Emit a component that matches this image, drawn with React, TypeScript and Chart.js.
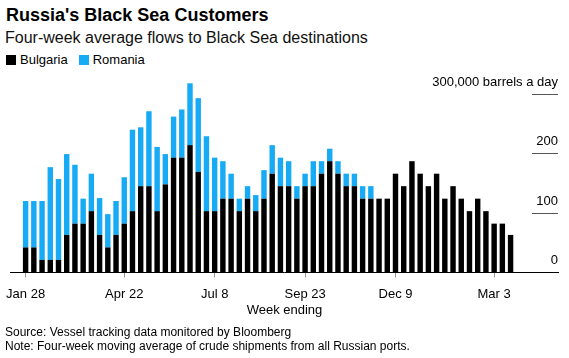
import React, { useEffect, useRef } from "react";
import { Chart, registerables } from "chart.js";

Chart.register(...registerables);

const weekLabels = [
  "Jan 28", "Feb 4", "Feb 11", "Feb 18", "Feb 25", "Mar 4", "Mar 11", "Mar 18", "Mar 25", "Apr 1",
  "Apr 8", "Apr 15", "Apr 22", "Apr 29", "May 6", "May 13", "May 20", "May 27", "Jun 3", "Jun 10",
  "Jun 17", "Jun 24", "Jul 1", "Jul 8", "Jul 15", "Jul 22", "Jul 29", "Aug 5", "Aug 12", "Aug 19",
  "Aug 26", "Sep 2", "Sep 9", "Sep 16", "Sep 23", "Sep 30", "Oct 7", "Oct 14", "Oct 21", "Oct 28",
  "Nov 4", "Nov 11", "Nov 18", "Nov 25", "Dec 2", "Dec 9", "Dec 16", "Dec 23", "Dec 30", "Jan 6",
  "Jan 13", "Jan 20", "Jan 27", "Feb 3", "Feb 10", "Feb 17", "Feb 24", "Mar 3", "Mar 10", "Mar 17",
];

// thousand barrels a day
const bulgaria = [
  42, 42, 21, 21, 21, 63, 82, 82, 103, 63,
  42, 63, 82, 103, 145, 145, 103, 148, 193, 193,
  214, 169, 103, 103, 124, 124, 103, 124, 103, 124,
  166, 145, 145, 124, 145, 145, 166, 187, 166, 145,
  145, 124, 124, 124, 124, 166, 145, 187, 166, 145,
  166, 124, 145, 124, 103, 124, 103, 82, 82, 63,
];

const romania = [
  78, 78, 99, 156, 136, 136, 99, 42, 63, 62,
  56, 57, 78, 137, 99, 126, 108, 51, 69, 81,
  104, 124, 126, 90, 63, 42, 21, 21, 27, 48,
  48, 48, 42, 21, 21, 42, 21, 21, 21, 21,
  21, 21, 21, 0, 0, 0, 0, 0, 0, 0,
  0, 0, 0, 0, 0, 0, 0, 0, 0, 0,
];

const labeledWeeks = ["Jan 28", "Apr 22", "Jul 8", "Sep 23", "Dec 9", "Mar 3"];
const yTicks = [0, 100, 200, 300];

const FONT = "'Liberation Sans', Arial, Helvetica, sans-serif";
const BLUE = "#17aaf5";

export default function App() {
  const canvasRef = useRef<HTMLCanvasElement | null>(null);

  useEffect(() => {
    const canvas = canvasRef.current;
    if (!canvas) return;
    const tickIdx = labeledWeeks.map((l) => weekLabels.indexOf(l));

    const shortGrid = {
      id: "shortGrid",
      afterDraw(chart: any) {
        const { ctx, chartArea, scales } = chart;
        ctx.save();
        ctx.strokeStyle = "#555";
        ctx.lineWidth = 1;
        yTicks.slice(1).forEach((v) => {
          const y = Math.round(scales.y.getPixelForValue(v)) + 0.5;
          ctx.beginPath();
          ctx.moveTo(chartArea.right - 26, y);
          ctx.lineTo(chartArea.right, y);
          ctx.stroke();
        });
        ctx.restore();
      },
    };

    const chart = new Chart(canvas, {
      type: "bar",
      data: {
        datasets: [
          {
            label: "Bulgaria",
            data: bulgaria.map((v, i) => ({ x: i, y: v })),
            backgroundColor: "#000000",
            barPercentage: 0.66,
            categoryPercentage: 1,
            clip: false,
          },
          {
            label: "Romania",
            data: romania.map((v, i) => ({ x: i, y: v })),
            backgroundColor: BLUE,
            barPercentage: 0.66,
            categoryPercentage: 1,
            clip: false,
          },
        ],
      },
      options: {
        animation: false,
        responsive: false,
        maintainAspectRatio: false,
        layout: { padding: { left: 10, right: 11, top: 24, bottom: 2 } },
        plugins: {
          legend: { display: false },
          tooltip: { enabled: false },
        },
        scales: {
          x: {
            type: "linear",
            stacked: true,
            offset: false,
            bounds: "data",
            min: -1.9,
            max: 64.77,
            afterBuildTicks: (scale: any) => {
              scale.ticks = tickIdx.map((v) => ({ value: v }));
            },
            afterFit: (scale: any) => {
              scale.paddingLeft = 0;
              scale.paddingRight = 0;
            },
            ticks: {
              autoSkip: false,
              maxRotation: 0,
              padding: 9,
              color: "#000",
              font: { family: FONT, size: 13 },
              callback: (value: any) => weekLabels[value as number] ?? "",
            },
            grid: {
              display: true,
              drawOnChartArea: false,
              drawTicks: true,
              tickLength: 5,
              offset: false,
              color: "#999",
            },
            border: { display: true, color: "#000", width: 1 },
          },
          y: {
            type: "linear",
            position: "right",
            stacked: true,
            min: 0,
            max: 300,
            afterBuildTicks: (scale: any) => {
              scale.ticks = yTicks.map((v) => ({ value: v }));
            },
            afterFit: (scale: any) => {
              scale.width = 0;
              scale.paddingTop = 0;
              scale.paddingBottom = 0;
            },
            ticks: {
              mirror: true,
              padding: 0,
              labelOffset: -12,
              color: "#000",
              font: { family: FONT, size: 13 },
              callback: (value: any) =>
                value === 300 ? "300,000 barrels a day" : String(value),
            },
            grid: { display: false },
            border: { display: false },
          },
        },
      } as any,
      plugins: [shortGrid],
    });

    return () => chart.destroy();
  }, []);

  const text: React.CSSProperties = {
    position: "absolute",
    fontFamily: FONT,
    color: "#000",
    whiteSpace: "nowrap",
    margin: 0,
  };

  return (
    <div
      style={{
        position: "absolute",
        left: 0,
        top: 0,
        width: 569,
        height: 358,
        background: "#fff",
        overflow: "hidden",
      }}
    >
      <div style={{ ...text, left: 6, top: 4, fontSize: 18, fontWeight: 700, lineHeight: "22px" }}>
        Russia's Black Sea Customers
      </div>
      <div style={{ ...text, left: 5, top: 28, fontSize: 16, lineHeight: "20px", color: "#111" }}>
        Four-week average flows to Black Sea destinations
      </div>
      <div style={{ ...text, left: 6, top: 52, fontSize: 13, lineHeight: "16px", display: "flex", alignItems: "center" }}>
        <span style={{ display: "inline-block", width: 10, height: 10, background: "#000", marginRight: 4 }} />
        <span style={{ marginRight: 11 }}>Bulgaria</span>
        <span style={{ display: "inline-block", width: 10, height: 10, background: BLUE, marginRight: 4 }} />
        <span>Romania</span>
      </div>
      <canvas
        ref={canvasRef}
        width={569}
        height={243}
        style={{ position: "absolute", left: 0, top: 70, width: 569, height: 243 }}
      />
      <div style={{ ...text, left: 0, width: 569, top: 302, fontSize: 13, lineHeight: "16px", textAlign: "center" }}>
        Week ending
      </div>
      <div style={{ ...text, left: 5, top: 325, fontSize: 12, lineHeight: "14px" }}>
        Source: Vessel tracking data monitored by Bloomberg
      </div>
      <div style={{ ...text, left: 5, top: 339, fontSize: 12, lineHeight: "14px" }}>
        Note: Four-week moving average of crude shipments from all Russian ports.
      </div>
    </div>
  );
}
